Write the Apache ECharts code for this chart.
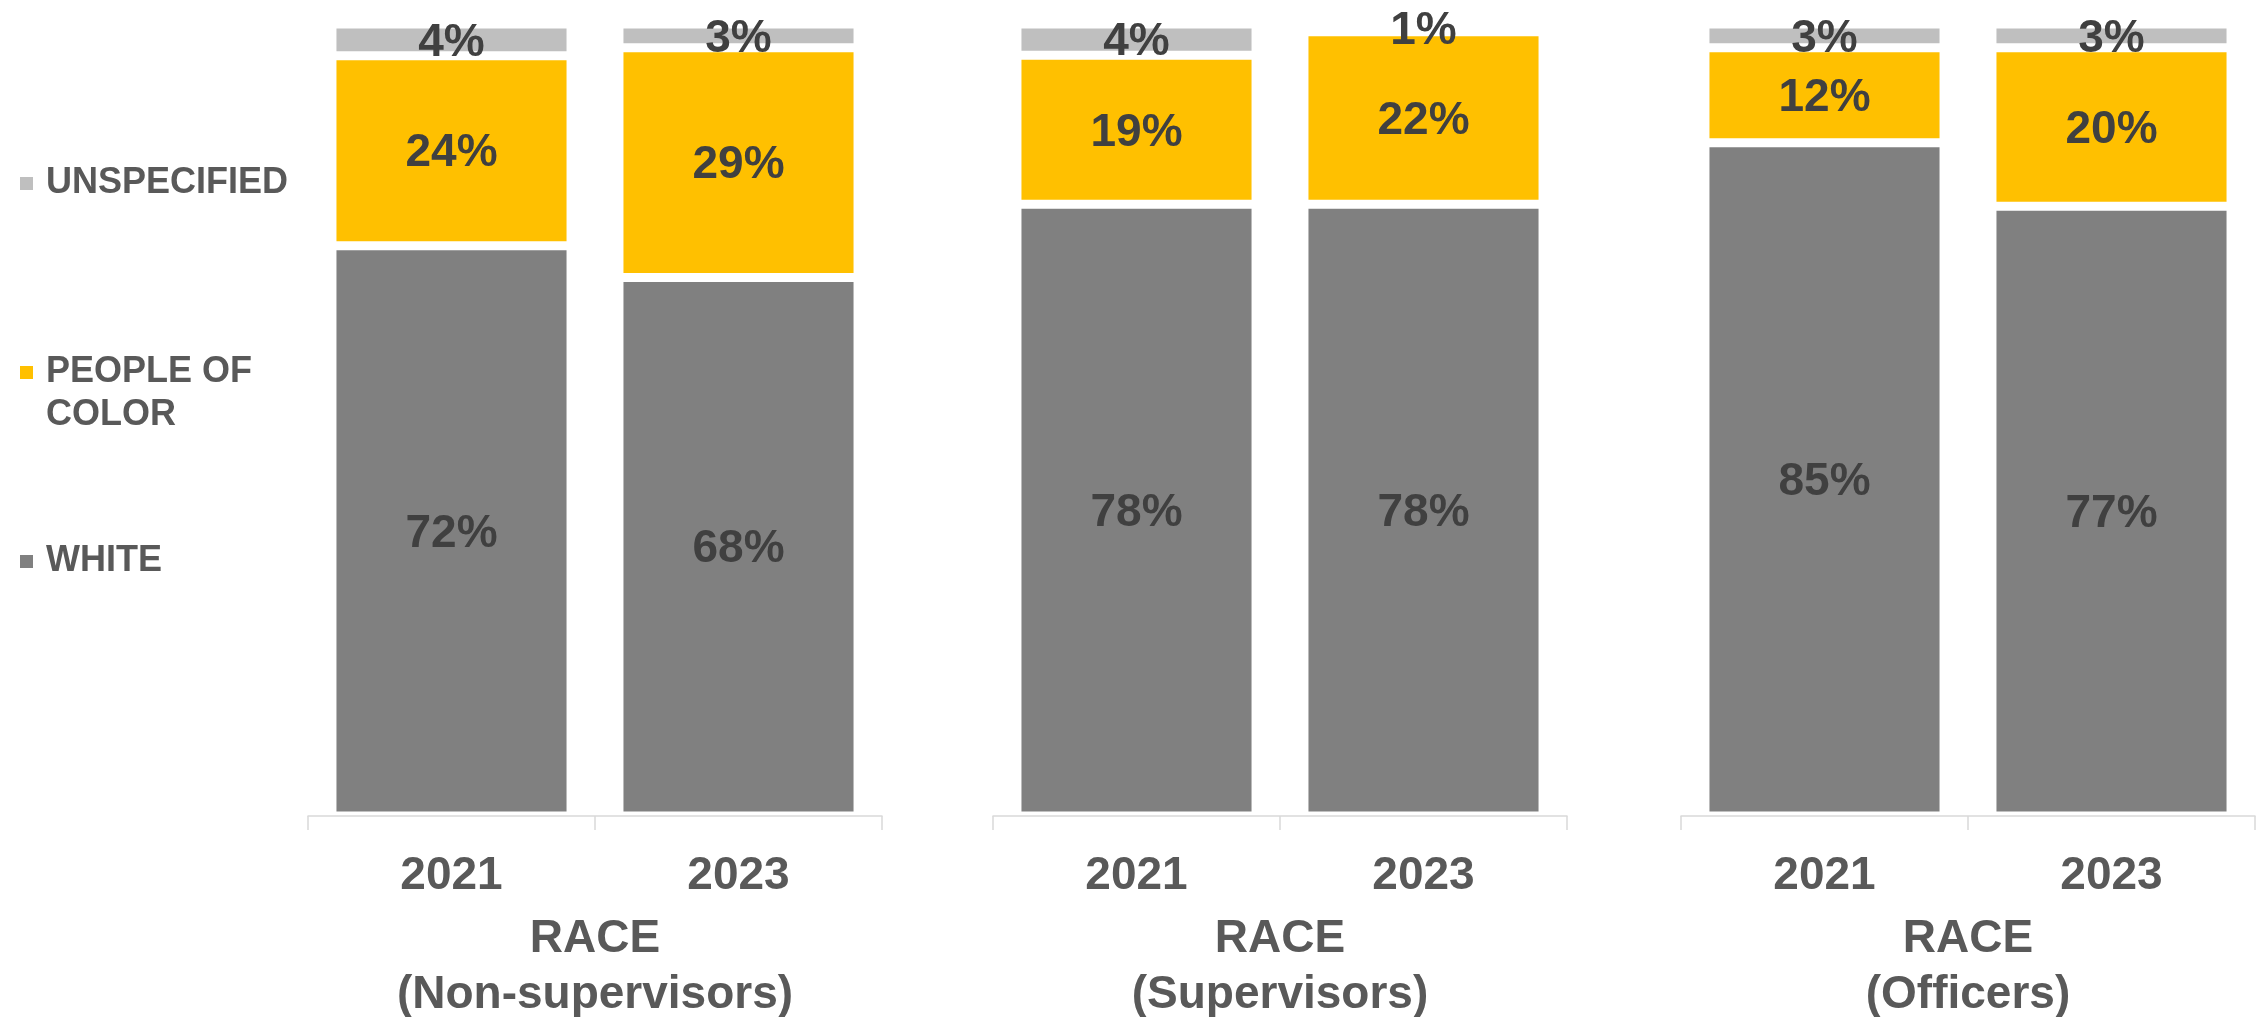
<!DOCTYPE html>
<html>
<head>
<meta charset="utf-8">
<title>Race composition by role, 2021 vs 2023</title>
<script src="https://cdn.jsdelivr.net/npm/echarts@6/dist/echarts.min.js"></script>
<style>
  html, body { margin: 0; padding: 0; background: #ffffff; }
  #chart { width: 2257px; height: 1017px; }
</style>
</head>
<body>
<div id="chart"></div>
<script>
// Survey years shown under each pair of bars
const years = ['2021', '2023'];

// One panel per role group
const groupTitles = ['RACE\n(Non-supervisors)', 'RACE\n(Supervisors)', 'RACE\n(Officers)'];

// Share of each race category (%), one [2021, 2023] pair per role group
const whitePct = [[72, 68], [78, 78], [85, 77]];
const peopleOfColorPct = [[24, 29], [19, 22], [12, 20]];
const unspecifiedPct = [[4, 3], [4, 1], [3, 3]];

const seriesNames = ['WHITE', 'PEOPLE OF COLOR', 'UNSPECIFIED'];
const seriesColors = ['#808080', '#FFC000', '#BFBFBF'];
const seriesValues = [whitePct, peopleOfColorPct, unspecifiedPct];

const FONT = 'Arial, "Liberation Sans", Helvetica, sans-serif';
const panelLefts = [308, 993, 1681];
const panelWidth = 574;

const grids = [], xAxes = [], yAxes = [], series = [];

groupTitles.forEach((title, g) => {
  grids.push({
    left: panelLefts[g], width: panelWidth,
    top: 24, height: 792,
    outerBoundsMode: 'none'
  });

  xAxes.push({
    type: 'category',
    gridIndex: g,
    data: years,
    z: 5,
    axisLine: { show: true, lineStyle: { color: '#D9D9D9', width: 1.5 } },
    axisTick: { show: true, length: 14, lineStyle: { color: '#D9D9D9', width: 1.5 } },
    axisLabel: {
      margin: 32,
      color: '#595959', fontFamily: FONT, fontWeight: 'bold',
      fontSize: 46, lineHeight: 56
    },
    name: title,
    nameLocation: 'middle',
    nameGap: 95,
    nameTextStyle: {
      color: '#595959', fontFamily: FONT, fontWeight: 'bold',
      fontSize: 46, lineHeight: 56
    }
  });

  // stacked shares for the panel set the top of its value axis
  const stackTotals = years.map((_, i) => seriesValues.reduce((s, arr) => s + arr[g][i], 0));
  yAxes.push({
    type: 'value',
    gridIndex: g,
    min: 0,
    max: Math.max(...stackTotals),
    show: false,
    splitLine: { show: false }
  });

  seriesNames.forEach((name, s) => {
    series.push({
      type: 'bar',
      name: name,
      xAxisIndex: g,
      yAxisIndex: g,
      stack: 'race' + g,
      barCategoryGap: '16.7%',
      data: seriesValues[s][g],
      itemStyle: { color: seriesColors[s], borderColor: '#FFFFFF', borderWidth: 4.5 },
      label: {
        show: true,
        position: 'inside',
        offset: [0, 3],
        formatter: '{c}%',
        color: '#404040',
        fontFamily: FONT,
        fontWeight: 'bold',
        fontSize: 46
      },
      emphasis: { disabled: true }
    });
  });
});

const chart = echarts.init(document.getElementById('chart'), null, { renderer: 'canvas' });
chart.setOption({
  backgroundColor: '#FFFFFF',
  animation: false,
  legend: {
    orient: 'vertical',
    left: 18,
    top: 162,
    padding: 0,
    itemGap: 103,
    itemWidth: 15,
    itemHeight: 15,
    icon: 'rect',
    selectedMode: false,
    data: ['UNSPECIFIED', 'PEOPLE OF COLOR', 'WHITE'],
    // the two-line entry keeps its swatch beside the first line
    formatter: name => name === 'PEOPLE OF COLOR' ? '\nPEOPLE OF\nCOLOR' : name,
    textStyle: {
      color: '#595959', fontFamily: FONT, fontWeight: 'bold',
      fontSize: 36, lineHeight: 43, padding: [0, 0, 0, 7]
    }
  },
  grid: grids,
  xAxis: xAxes,
  yAxis: yAxes,
  series: series
});
</script>
</body>
</html>
